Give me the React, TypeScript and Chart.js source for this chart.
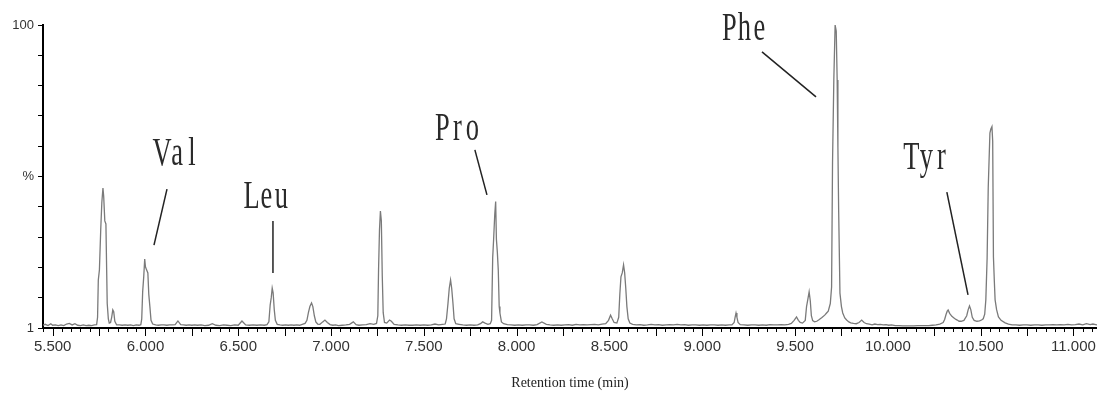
import { useEffect, useRef } from 'react';
import { Chart, registerables } from 'chart.js';

Chart.register(...registerables);

// Chromatogram trace: [retention time (min), relative intensity (%)]
const TRACE: [number, number][] = [
  [5.448, 1.9], [5.46, 2.2], [5.475, 1.8], [5.49, 2.4], [5.5, 1.9], [5.515, 2.0], [5.53, 1.8], [5.545, 2.0],
  [5.56, 1.8], [5.575, 2.3], [5.59, 2.5], [5.605, 2.0], [5.62, 2.4], [5.635, 1.9], [5.65, 1.8], [5.665, 2.0],
  [5.68, 1.8], [5.695, 1.9], [5.71, 1.8], [5.725, 2.0], [5.737, 2.1],
  [5.742, 4.5], [5.746, 16.7], [5.752, 20], [5.759, 33], [5.765, 42], [5.771, 46.7], [5.775, 44], [5.781, 36],
  [5.787, 35], [5.791, 20], [5.794, 9], [5.8, 4], [5.805, 2.6], [5.812, 2.8], [5.818, 4.5], [5.824, 6.9],
  [5.829, 6.3], [5.835, 3.2], [5.845, 2.0],
  [5.86, 2.0], [5.875, 1.9], [5.89, 2.0], [5.905, 1.9], [5.92, 2.0], [5.935, 1.8], [5.95, 2.0], [5.965, 1.9], [5.975, 2.1],
  [5.98, 4], [5.985, 12.8], [5.991, 18], [5.996, 23.5], [6.0, 21], [6.006, 20], [6.013, 19], [6.018, 12],
  [6.024, 7.9], [6.03, 3.5], [6.039, 2.3],
  [6.055, 2.0], [6.07, 1.9], [6.085, 2.0], [6.1, 2.0], [6.115, 1.9], [6.13, 2.0], [6.145, 2.0], [6.16, 2.1],
  [6.175, 3.3], [6.19, 2.1], [6.205, 2.0], [6.22, 1.9], [6.235, 2.0], [6.25, 1.9], [6.265, 2.0], [6.28, 1.9],
  [6.3, 2.0], [6.32, 1.8], [6.34, 1.9], [6.36, 2.4], [6.38, 1.9], [6.4, 1.8], [6.42, 2.0], [6.44, 1.9],
  [6.46, 1.8], [6.48, 2.0], [6.5, 1.9], [6.52, 3.3], [6.54, 2.0], [6.56, 1.9], [6.58, 2.0], [6.6, 1.9],
  [6.62, 2.0], [6.64, 1.9], [6.655, 2.1],
  [6.665, 3.0], [6.672, 8.5], [6.678, 11], [6.683, 14], [6.688, 12.5], [6.694, 7], [6.7, 3.5], [6.71, 2.2],
  [6.725, 2.0], [6.74, 1.9], [6.755, 2.0], [6.77, 1.9], [6.785, 2.0], [6.8, 1.9], [6.815, 2.0], [6.83, 1.9],
  [6.845, 2.2], [6.86, 2.5],
  [6.87, 3.5], [6.878, 6], [6.886, 8], [6.895, 9.2], [6.902, 8], [6.91, 5], [6.918, 3.0], [6.928, 2.3],
  [6.94, 2.2], [6.955, 3.0], [6.967, 3.6], [6.98, 2.8], [6.995, 2.1],
  [7.01, 1.9], [7.025, 2.0], [7.04, 1.8], [7.06, 1.9], [7.08, 2.0], [7.1, 2.2], [7.12, 3.0], [7.135, 2.1],
  [7.15, 1.9], [7.17, 2.0], [7.19, 2.1], [7.21, 2.4], [7.23, 2.2], [7.245, 2.5],
  [7.252, 5], [7.256, 20], [7.261, 33], [7.266, 39.2], [7.271, 36], [7.276, 18], [7.281, 6], [7.288, 2.8],
  [7.3, 2.6], [7.315, 3.6], [7.325, 3.2], [7.34, 2.2],
  [7.36, 2.0], [7.38, 1.9], [7.4, 2.0], [7.42, 1.9], [7.44, 1.9], [7.46, 2.0], [7.48, 1.9], [7.5, 2.0],
  [7.52, 1.9], [7.54, 2.0], [7.56, 2.3], [7.58, 2.0], [7.6, 2.2], [7.615, 2.3],
  [7.622, 4], [7.63, 9], [7.637, 14], [7.644, 16.7], [7.65, 14], [7.657, 9], [7.663, 4], [7.672, 2.4],
  [7.69, 2.2], [7.71, 2.0], [7.73, 1.9], [7.75, 2.0], [7.77, 1.9], [7.79, 2.0], [7.805, 2.4], [7.817, 3.0],
  [7.83, 2.6], [7.845, 2.2], [7.858, 2.4],
  [7.865, 3.5], [7.871, 24], [7.876, 30], [7.882, 38], [7.887, 42.3], [7.891, 30], [7.896, 25.8], [7.901, 20],
  [7.906, 8], [7.91, 5.9], [7.918, 3.0], [7.93, 2.4],
  [7.95, 2.1], [7.97, 2.0], [7.99, 1.9], [8.01, 2.0], [8.03, 1.9], [8.05, 2.0], [8.07, 2.0], [8.09, 1.9],
  [8.11, 2.1], [8.136, 3.0], [8.16, 2.2], [8.18, 2.0], [8.2, 1.9], [8.22, 2.0], [8.24, 1.9], [8.26, 2.0],
  [8.28, 2.1], [8.3, 1.9], [8.32, 2.2], [8.34, 2.0], [8.36, 2.1], [8.38, 2.0], [8.4, 2.1], [8.42, 2.2],
  [8.44, 2.0], [8.46, 2.3], [8.48, 2.4], [8.495, 3.5],
  [8.506, 5.2], [8.515, 4.0], [8.525, 2.8], [8.54, 2.6], [8.55, 4.5], [8.556, 12], [8.562, 17.7], [8.569, 19],
  [8.576, 21.6], [8.582, 19], [8.588, 14], [8.594, 8], [8.601, 4], [8.61, 2.6], [8.625, 2.2],
  [8.645, 2.0], [8.665, 2.1], [8.685, 1.9], [8.705, 2.0], [8.725, 2.2], [8.745, 2.0], [8.765, 2.1], [8.785, 1.9],
  [8.805, 2.0], [8.825, 2.1], [8.845, 2.0], [8.865, 2.2], [8.885, 2.0], [8.905, 2.1], [8.925, 1.9], [8.945, 2.0],
  [8.965, 2.0], [8.985, 1.9], [9.005, 2.0], [9.025, 1.9], [9.045, 2.0], [9.065, 2.0], [9.085, 1.9], [9.105, 2.0],
  [9.125, 1.9], [9.145, 2.0], [9.16, 2.0], [9.172, 2.8],
  [9.177, 4.5], [9.182, 5.9], [9.187, 4.5], [9.193, 2.8], [9.205, 2.1],
  [9.225, 2.0], [9.245, 1.9], [9.265, 2.0], [9.285, 2.0], [9.305, 1.9], [9.325, 2.0], [9.345, 1.9], [9.365, 2.1],
  [9.385, 2.0], [9.405, 2.0], [9.425, 2.1], [9.445, 2.0], [9.465, 2.2], [9.48, 2.5], [9.495, 3.5],
  [9.508, 4.6], [9.518, 3.5], [9.528, 2.8], [9.54, 2.6], [9.555, 3.5], [9.562, 8], [9.568, 10], [9.576, 12.8],
  [9.582, 10], [9.588, 5], [9.595, 3.4], [9.605, 3.0], [9.617, 3.2], [9.627, 3.6], [9.645, 4.4], [9.66, 5.2],
  [9.67, 5.9], [9.679, 6.5],
  [9.69, 9], [9.697, 14.4], [9.702, 54.9], [9.709, 82], [9.716, 100], [9.722, 98], [9.727, 82], [9.731, 60],
  [9.735, 39.6], [9.742, 12.4], [9.75, 8], [9.757, 5.9], [9.768, 4.3], [9.778, 3.6], [9.79, 3.0], [9.8, 2.7],
  [9.815, 2.5], [9.83, 2.4], [9.845, 2.8], [9.859, 3.6], [9.872, 2.8], [9.885, 2.4],
  [9.9, 2.3], [9.915, 2.0], [9.93, 2.3], [9.945, 2.1], [9.96, 2.2], [9.975, 2.0], [9.99, 2.1], [10.005, 1.9],
  [10.02, 2.0], [10.04, 1.8], [10.06, 1.8], [10.08, 1.7], [10.1, 1.7], [10.12, 1.7], [10.14, 1.7], [10.16, 1.8],
  [10.18, 1.8], [10.2, 1.8], [10.22, 1.8], [10.24, 1.9], [10.26, 2.0], [10.28, 2.3], [10.298, 2.8],
  [10.306, 3.8], [10.314, 5.5], [10.32, 6.5], [10.325, 6.9], [10.333, 5.8], [10.345, 4.8], [10.358, 4.2],
  [10.367, 3.8], [10.374, 3.6], [10.384, 3.2],
  [10.395, 3.2], [10.41, 3.5], [10.425, 5], [10.433, 7], [10.44, 8.2], [10.447, 7], [10.455, 4.5], [10.465, 3.5],
  [10.48, 3.2], [10.494, 3.3], [10.505, 3.6], [10.514, 4.0],
  [10.522, 5.5], [10.528, 10.2], [10.535, 23.9], [10.541, 47], [10.55, 64.7], [10.555, 66], [10.561, 66.8],
  [10.565, 62], [10.569, 24.2], [10.574, 16], [10.578, 10.2], [10.586, 7], [10.596, 4.6], [10.61, 3.5],
  [10.632, 2.7], [10.65, 2.3],
  [10.67, 2.0], [10.69, 2.0], [10.71, 1.9], [10.73, 2.0], [10.75, 2.0], [10.77, 1.9], [10.79, 2.0], [10.81, 2.0],
  [10.83, 1.9], [10.85, 2.0], [10.87, 2.0], [10.89, 2.1], [10.91, 2.0], [10.93, 2.1], [10.95, 2.0], [10.97, 2.2],
  [10.99, 2.0], [11.01, 2.1], [11.03, 2.3], [11.05, 2.0], [11.07, 2.4], [11.09, 2.1], [11.105, 2.3], [11.12, 2.1],
  [11.127, 2.0],
];

const X_MIN = 5.448;
const X_MAX = 11.127;
const X_MAJOR_LABELS = ['5.500', '6.000', '6.500', '7.000', '7.500', '8.000', '8.500', '9.000', '9.500', '10.000', '10.500', '11.000'];
const X_MINOR_STEP = 0.05;

const Y_TICK_VALUES = [1, 10.9, 20.8, 30.7, 40.6, 50.5, 60.4, 70.3, 80.2, 90.1, 100];
const Y_TICK_LABELS = ['1', '', '', '', '', '%', '', '', '', '', '100'];

const X_TITLE = 'Retention time (min)';

// Peak annotations: label anchor and leader line, in data coordinates
const PEAK_NAMES = ['Val', 'Leu', 'Pro', 'Phe', 'Tyr'];
const ANNOTATIONS = [
  { text: [6.17, 57.5], from: [6.116, 46.4], to: [6.046, 28.1] },
  { text: [6.652, 43.6], from: [6.687, 36], to: [6.687, 19] },
  { text: [7.681, 65.7], from: [7.775, 59.2], to: [7.84, 44.5] },
  { text: [9.227, 98.4], from: [9.322, 91.2], to: [9.613, 76.5] },
  { text: [10.208, 56.2], from: [10.318, 45.4], to: [10.432, 11.8] },
];

const overlayPlugin = {
  id: 'overlay',
  afterDraw(chart: any) {
    const { ctx, scales, chartArea } = chart;
    const x = scales.x;
    const y = scales.y;
    ctx.save();
    // x-axis tick marks (major every 0.25, minor every 0.05)
    ctx.strokeStyle = '#000';
    ctx.lineWidth = 1;
    const yb = chartArea.bottom;
    x.ticks.forEach((tk: any) => {
      const v = tk.value;
      const px = Math.round(x.getPixelForValue(v)) + 0.5;
      const isMajor = Math.abs(v * 4 - Math.round(v * 4)) < 1e-6;
      const len = isMajor ? 8 : 4;
      ctx.beginPath();
      ctx.moveTo(px, yb);
      ctx.lineTo(px, yb + len);
      ctx.stroke();
    });
    // annotations: leader line + typewriter-style (monospaced serif) label
    ANNOTATIONS.forEach((a, i) => {
      ctx.strokeStyle = '#222';
      ctx.lineWidth = 1.5;
      ctx.beginPath();
      ctx.moveTo(x.getPixelForValue(a.from[0]), y.getPixelForValue(a.from[1]));
      ctx.lineTo(x.getPixelForValue(a.to[0]), y.getPixelForValue(a.to[1]));
      ctx.stroke();
      const name = PEAK_NAMES[i];
      const cx = x.getPixelForValue(a.text[0]);
      const cy = y.getPixelForValue(a.text[1]);
      const advance = 15;
      for (let c = 0; c < name.length; c++) {
        ctx.save();
        ctx.translate(cx + (c - (name.length - 1) / 2) * advance, cy);
        ctx.scale(1.15, 1.7);
        ctx.font = '23px "Liberation Serif", "DejaVu Serif", serif';
        ctx.fillStyle = '#2a2a2a';
        ctx.textAlign = 'center';
        ctx.textBaseline = 'middle';
        ctx.fillText(name[c], 0, 0);
        ctx.restore();
      }
    });
    ctx.restore();
  },
};

export default function App() {
  const canvasRef = useRef<HTMLCanvasElement | null>(null);

  useEffect(() => {
    document.body.style.margin = '0';
    const canvas = canvasRef.current;
    if (!canvas) return;
    const chart = new Chart(canvas, {
      type: 'line',
      data: {
        datasets: [
          {
            data: TRACE.map(([t, v]) => ({ x: t, y: v })),
            borderColor: '#7a7a7a',
            borderWidth: 1.3,
            pointRadius: 0,
            tension: 0,
            fill: false,
          },
        ],
      },
      options: {
        responsive: false,
        animation: false,
        parsing: false,
        layout: { padding: { top: 25, right: 0, left: 0, bottom: 0 } },
        plugins: {
          legend: { display: false },
          tooltip: { enabled: false },
        },
        scales: {
          x: {
            type: 'linear',
            min: X_MIN,
            max: X_MAX,
            afterBuildTicks: (scale: any) => {
              const ticks: { value: number }[] = [];
              const start = Math.ceil(X_MIN / X_MINOR_STEP - 1e-9);
              const end = Math.floor(X_MAX / X_MINOR_STEP + 1e-9);
              for (let k = start; k <= end; k++) {
                ticks.push({ value: Math.round(k * X_MINOR_STEP * 1000) / 1000 });
              }
              scale.ticks = ticks;
            },
            afterFit: (scale: any) => {
              scale.height = 397 - 328;
            },
            ticks: {
              autoSkip: false,
              maxRotation: 0,
              minRotation: 0,
              padding: 2,
              color: '#333',
              font: { family: '"Liberation Sans", Arial, sans-serif', size: 15 },
              callback: (value: any) => {
                const v = Number(value);
                const lbl = X_MAJOR_LABELS.find((l) => Math.abs(parseFloat(l) - v) < 1e-6);
                return lbl ?? '';
              },
            },
            grid: {
              display: true,
              drawOnChartArea: false,
              drawTicks: true,
              tickLength: 8,
              color: 'rgba(0,0,0,0)',
            },
            border: { display: true, color: '#000', width: 2 },
            title: {
              display: true,
              text: X_TITLE,
              color: '#222',
              font: { family: '"Liberation Serif", "Times New Roman", serif', size: 14 },
              padding: { top: 0, bottom: 5 },
            },
          },
          y: {
            type: 'linear',
            min: 1,
            max: 100,
            afterBuildTicks: (scale: any) => {
              scale.ticks = Y_TICK_VALUES.map((v) => ({ value: v }));
            },
            afterFit: (scale: any) => {
              scale.width = 43;
            },
            ticks: {
              autoSkip: false,
              padding: 4,
              color: '#333',
              font: { family: '"Liberation Sans", Arial, sans-serif', size: 13 },
              callback: (_v: any, i: number) => Y_TICK_LABELS[i] ?? '',
            },
            grid: {
              display: true,
              drawOnChartArea: false,
              drawTicks: true,
              tickLength: 5,
              color: '#000',
            },
            border: { display: true, color: '#000', width: 2 },
          },
        },
      },
      plugins: [overlayPlugin],
    });
    return () => chart.destroy();
  }, []);

  return (
    <div style={{ width: 1097, height: 397, position: 'relative', background: '#fff' }}>
      <canvas ref={canvasRef} width={1097} height={397} style={{ display: 'block' }} />
    </div>
  );
}
